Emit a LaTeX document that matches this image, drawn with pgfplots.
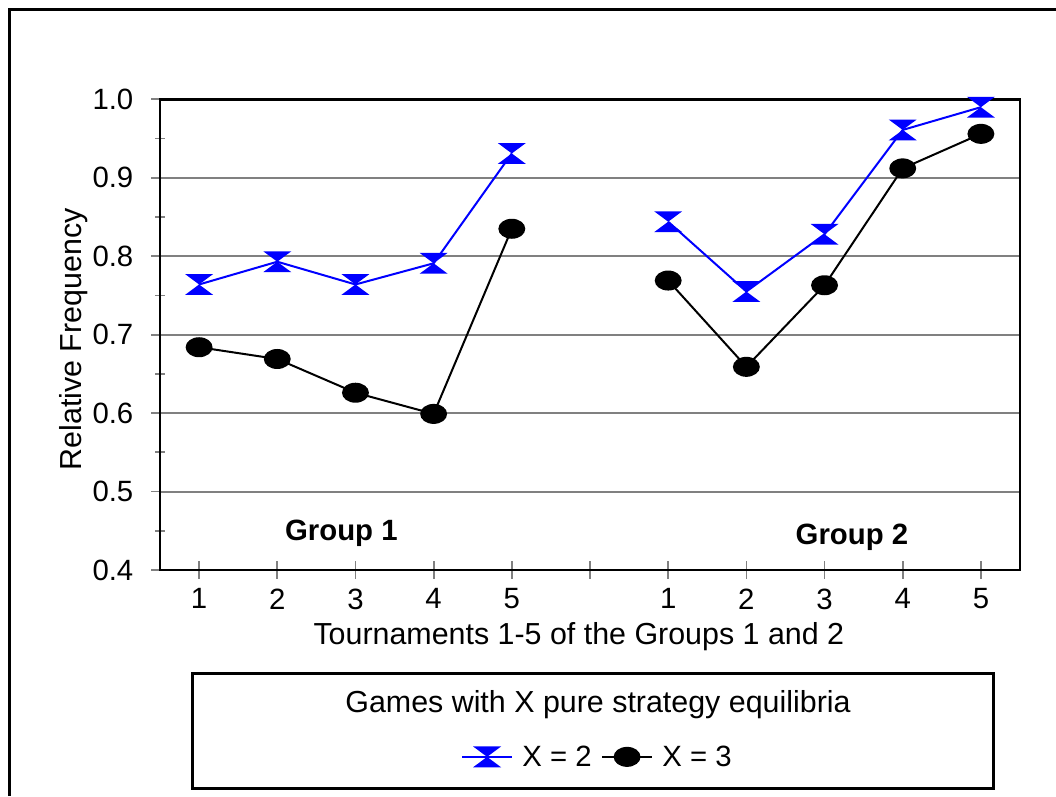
\documentclass[border=0pt]{standalone}
\usepackage{pgfplots}
\pgfplotsset{compat=1.18}
\usepackage{fontspec}
\setmainfont{Liberation Sans}

% hourglass marker of the X = 2 series
\pgfdeclareplotmark{hourglass}{%
  \pgfpathmoveto{\pgfpoint{-10.5pt}{7.8pt}}%
  \pgfpathlineto{\pgfpoint{10.5pt}{7.8pt}}%
  \pgfpathlineto{\pgfpoint{0pt}{0pt}}%
  \pgfpathclose
  \pgfpathmoveto{\pgfpoint{-10.5pt}{-7.8pt}}%
  \pgfpathlineto{\pgfpoint{10.5pt}{-7.8pt}}%
  \pgfpathlineto{\pgfpoint{0pt}{0pt}}%
  \pgfpathclose
  \pgfusepathqfill}
% flat disc of the X = 3 series
\pgfdeclareplotmark{blob}{%
  \pgfpathellipse{\pgfpointorigin}{\pgfpoint{10.1pt}{0pt}}{\pgfpoint{0pt}{7.5pt}}%
  \pgfusepathqfill}

\newcommand{\chartfont}{\fontsize{22}{26}\selectfont}
\newcommand{\labelfont}{\fontsize{22.8}{27}\selectfont}

\begin{document}
\begin{tikzpicture}
\begin{scope}[x=0.75pt,y=-0.75pt]
  \useasboundingbox (0,0) rectangle (1056,796);
  \draw[line width=2.25pt] (9,796) -- (9,9) -- (1056,9);
  \draw[line width=2.25pt] (192,673) rectangle (993,788);
  \node[font=\labelfont] at (598,705) {Games with X pure strategy equilibria};
\end{scope}

\begin{axis}[
  at={(120pt,-427.5pt)}, anchor=south west,
  scale only axis, width=645pt, height=353pt,
  xmin=-0.5, xmax=10.5, ymin=0.4, ymax=1.0,
  axis line style={black, line width=1.8pt},
  xtick={0,1,2,3,4,5,6,7,8,9,10},
  xticklabels={1,2,3,4,5,,1,2,3,4,5},
  ytick={0.4,0.5,0.6,0.7,0.8,0.9,1.0},
  minor y tick num=1,
  xtick pos=lower, ytick pos=left,
  tick align=center,
  major tick length=13pt, minor tick length=7pt,
  every tick/.style={gray, line width=1.3pt},
  ymajorgrids,
  major grid style={gray, line width=1.5pt},
  y tick label style={/pgf/number format/fixed, /pgf/number format/fixed zerofill,
    /pgf/number format/precision=1},
  /pgf/number format/assume math mode=true,
  every tick label/.append style={font=\chartfont, black},
  yticklabel style={xshift=-10pt},
  xticklabel style={yshift=-4pt},
  xlabel={Tournaments 1-5 of the Groups 1 and 2},
  ylabel={Relative Frequency},
  label style={font=\labelfont},
  xlabel style={at={(axis description cs:0.487,-0.141)}, anchor=center},
  ylabel style={at={(axis description cs:-0.1,0.49)}, anchor=center},
  legend style={at={(axis description cs:0.509,-0.397)}, anchor=center,
    draw=none, fill=none, font=\chartfont,
    /tikz/every odd column/.append style={column sep=5pt},
    /tikz/every even column/.append style={column sep=5pt}},
  legend columns=-1,
  legend image code/.code={%
    \draw[mark repeat=2, mark phase=2, #1]
      plot coordinates {(0pt,0pt) (18.75pt,0pt) (37.5pt,0pt)};},
]
\addplot[blue, line width=1.5pt, mark=hourglass, unbounded coords=jump] coordinates {
  (0,0.764) (1,0.793) (2,0.764) (3,0.791) (4,0.931)
  (5,nan)
  (6,0.844) (7,0.755) (8,0.828) (9,0.961) (10,0.990)
};
\addlegendentry{X = 2}
\addplot[black, line width=1.5pt, mark=blob, unbounded coords=jump] coordinates {
  (0,0.684) (1,0.669) (2,0.626) (3,0.599) (4,0.835)
  (5,nan)
  (6,0.769) (7,0.659) (8,0.763) (9,0.912) (10,0.956)
};
\addlegendentry{X = 3}
\node[font=\chartfont\bfseries] at (axis cs:1.82,0.447) {Group 1};
\node[font=\chartfont\bfseries] at (axis cs:8.35,0.442) {Group 2};
\end{axis}
\end{tikzpicture}
\end{document}
